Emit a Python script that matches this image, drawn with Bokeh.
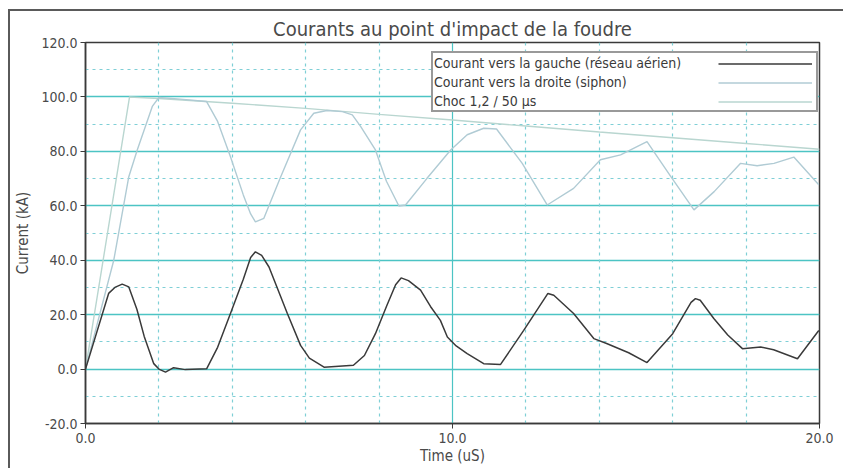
from bokeh.plotting import figure
from bokeh.models import Range1d, FixedTicker, PrintfTickFormatter, Grid, Legend, LegendItem
from bokeh.embed import file_html
from bokeh.resources import INLINE

title = "Courants au point d'impact de la foudre"
x_label = "Time (uS)"
y_label = "Current (kA)"
legend_labels = ["Courant vers la gauche (réseau aérien)",
                 "Courant vers la droite (siphon)",
                 "Choc 1,2 / 50 µs"]
x_ticks = [0, 10, 20]
y_ticks = [-20, 0, 20, 40, 60, 80, 100, 120]
grid_major_y = [0, 20, 40, 60, 80, 100]
grid_minor_y = [-10, 10, 30, 50, 70, 90, 110]
grid_major_x = [10]
grid_minor_x = [2, 4, 6, 8, 12, 14, 16, 18]

gauche_t = [0, 0.63, 0.8, 1.0, 1.18, 1.4, 1.6, 1.86, 2.0, 2.18, 2.4, 2.72, 3.3, 3.6, 3.95,
            4.3, 4.5, 4.63, 4.8, 5.0, 5.5, 5.86, 6.1, 6.5, 7.3, 7.6, 7.9, 8.2, 8.45, 8.6,
            8.8, 9.13, 9.4, 9.67, 9.86, 10.1, 10.4, 10.85, 11.31, 11.94,
            12.6, 12.76, 13.3, 13.85, 14.2, 14.8, 15.3, 16.0, 16.5, 16.62, 16.75, 17.12,
            17.5, 17.9, 18.4, 18.75, 19.4, 19.98]
gauche_i = [0, 27.8, 30.0, 31.2, 30.2, 22.0, 12.0, 2.0, 0.0, -1.1, 0.5, -0.2, 0.1, 8.0, 20.4,
            33.0, 41.0, 43.1, 41.8, 37.5, 20.4, 8.7, 4.0, 0.7, 1.4, 5.0, 13.0, 23.0, 31.0, 33.5,
            32.5, 29.0, 23.0, 17.9, 11.8, 8.5, 5.7, 2.0, 1.7, 14.2,
            27.8, 27.1, 20.4, 11.2, 9.4, 6.0, 2.4, 13.0, 24.5, 25.9, 25.3, 18.6,
            12.5, 7.5, 8.1, 7.1, 3.8, 14.2]

droite_t = [0, 0.77, 1.18, 1.41, 1.82, 2.0, 2.5, 3.3, 3.6, 3.95, 4.3, 4.5, 4.63, 4.86, 5.3,
            5.86, 6.22, 6.58, 7.0, 7.27, 7.5, 7.9, 8.2, 8.54, 8.72, 9.3, 9.95, 10.4, 10.85,
            11.2, 11.9, 12.58, 13.3, 14.03, 14.58, 15.3, 15.95, 16.58, 17.13, 17.85, 18.3,
            18.76, 19.3, 19.98]
droite_i = [0, 40.0, 70.7, 80.5, 96.5, 99.8, 99.3, 98.3, 91.0, 78.0, 64.0, 57.0, 54.1, 55.4,
            70.0, 87.9, 94.0, 95.0, 94.6, 93.4, 89.1, 80.5, 69.0, 59.9, 60.3, 70.0, 80.5,
            86.1, 88.5, 88.2, 75.6, 60.3, 66.4, 76.9, 78.7, 83.6, 70.7, 58.5, 65.2, 75.6,
            74.7, 75.6, 77.9, 67.7]

choc_t = [0, 1.2, 2, 4, 6, 8, 10, 12, 14, 16, 18, 20]
choc_i = [0, 100, 99.4, 97.7, 95.8, 93.6, 91.5, 89.3, 87.1, 85.0, 82.9, 80.8]

FONT = "'DejaVu Sans Condensed', 'Roboto Condensed', Roboto, sans-serif"
TXT = "#4a4a4a"
CYAN = "#4cc4c4"
CYAN_D = "#7fcfd6"

p = figure(width=835, height=459, output_backend="svg", toolbar_location=None,
           x_range=Range1d(0, 20), y_range=Range1d(-20, 120),
           min_border_left=75, min_border_right=26, min_border_top=31, min_border_bottom=47)
p.styles = {"position": "absolute", "left": "8px", "top": "9px",
            "border-left": "2px solid #5a5a5a", "border-top": "2px solid #5a5a5a"}

p.title.text = title
p.title.align = "center"
p.title.text_font = FONT
p.title.text_font_size = "20px"
p.title.text_font_style = "normal"
p.title.text_color = TXT
p.title.offset = 0
p.title.standoff = 4

p.outline_line_color = "#3a3a3a"
p.outline_line_width = 1.5
p.outline_line_alpha = 1

for ax in (p.xaxis[0], p.yaxis[0]):
    ax.axis_line_color = "#3a3a3a"
    ax.axis_line_width = 1.5
    ax.major_tick_line_color = "#3a3a3a"
    ax.major_tick_in = 0
    ax.major_tick_out = 5
    ax.minor_tick_line_color = None
    ax.major_label_text_font = FONT
    ax.major_label_text_font_size = "14px"
    ax.major_label_text_color = TXT
    ax.axis_label_text_font = FONT
    ax.axis_label_text_font_size = "15px"
    ax.axis_label_text_font_style = "normal"
    ax.axis_label_text_color = TXT
    ax.formatter = PrintfTickFormatter(format="%.1f")

p.xaxis[0].ticker = FixedTicker(ticks=x_ticks)
p.yaxis[0].ticker = FixedTicker(ticks=y_ticks)
p.xaxis[0].axis_label = x_label
p.yaxis[0].axis_label = y_label
p.xaxis[0].major_label_standoff = 4
p.xaxis[0].axis_label_standoff = 1
p.yaxis[0].major_label_standoff = 3
p.yaxis[0].axis_label_standoff = 6

p.xgrid.ticker = FixedTicker(ticks=grid_major_x)
p.xgrid.grid_line_color = CYAN
p.xgrid.grid_line_width = 1.2
p.ygrid.ticker = FixedTicker(ticks=grid_major_y)
p.ygrid.grid_line_color = CYAN
p.ygrid.grid_line_width = 1.5

p.add_layout(Grid(dimension=0, ticker=FixedTicker(ticks=grid_minor_x),
                  grid_line_color=CYAN_D, grid_line_dash="3 4", grid_line_width=1.2))
p.add_layout(Grid(dimension=1, ticker=FixedTicker(ticks=grid_minor_y),
                  grid_line_color=CYAN_D, grid_line_dash="3 4", grid_line_width=1.2))

r_choc = p.line(choc_t, choc_i, line_color="#b9d6d0", line_width=1.4)
r_droite = p.line(droite_t, droite_i, line_color="#b0cbd4", line_width=1.4)
r_gauche = p.line(gauche_t, gauche_i, line_color="#3a3a3a", line_width=1.5)

renderers = [r_gauche, r_droite, r_choc]

leg_text = Legend(items=[LegendItem(label=l, renderers=[r]) for l, r in zip(legend_labels, renderers)],
                  location=(346, 311), glyph_width=0, glyph_height=17, label_height=17,
                  label_width=381, label_standoff=0, spacing=2, padding=1, margin=0,
                  border_line_color="#333333", border_line_width=2,
                  background_fill_color="white", background_fill_alpha=1,
                  label_text_font=FONT, label_text_font_size="14px", label_text_color="#3a3a3a")
leg_lines = Legend(items=[LegendItem(label=" ", renderers=[r]) for r in renderers],
                   location=(633, 313), glyph_width=94, glyph_height=17, label_height=17,
                   label_width=0, label_standoff=0, spacing=2, padding=0, margin=0,
                   border_line_color=None, background_fill_alpha=0,
                   label_text_font_size="1px")
p.add_layout(leg_text)
p.add_layout(leg_lines)

open("out.html", "w").write(file_html(p, INLINE))
